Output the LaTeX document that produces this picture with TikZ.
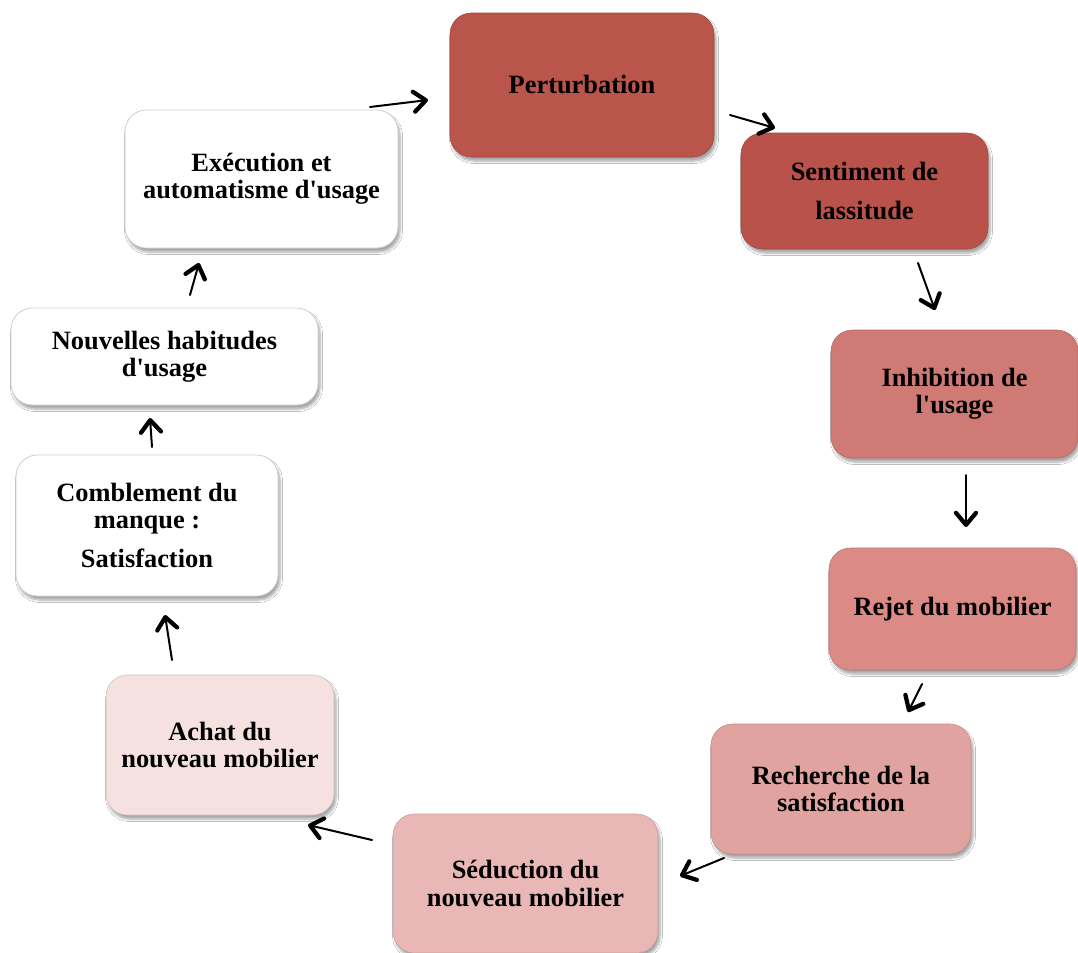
\documentclass[tikz,border=0pt]{standalone}
\usepackage{fontspec}
\setmainfont{Liberation Serif}
\usetikzlibrary{arrows.meta,shadows.blur}
\definecolor{cA}{HTML}{BA554C}
\definecolor{cB}{HTML}{B9524A}
\definecolor{cC}{HTML}{D07A75}
\definecolor{cD}{HTML}{DB8A85}
\definecolor{cE}{HTML}{E1A3A0}
\definecolor{cF}{HTML}{E9B8B6}
\definecolor{cG}{HTML}{F5E1E0}
\definecolor{edgegray}{HTML}{CFCFCF}
\newcommand{\apos}{\textquotesingle}
\tikzset{
  x=0.75pt, y=-0.75pt,
  box/.style={rounded corners=16pt, align=center, inner sep=2pt,
    font=\fontsize{19.8}{20.3}\selectfont\bfseries,
    blur shadow={shadow xshift=1.5pt, shadow yshift=-3pt, shadow blur steps=6, shadow opacity=35}},
  redbox/.style={box, fill=#1, draw=#1!85!black, line width=0.4pt},
  whitebox/.style={box, fill=white, draw=edgegray, line width=0.6pt},
  conn/.style={line width=1.5pt, line cap=round,
    -{Straight Barb[length=9pt,width=15pt,line width=3.2pt,round]}},
}
\begin{document}
\begin{tikzpicture}
\useasboundingbox (0,0) rectangle (1078,953);
\fill[white] (0,0) rectangle (1078,953);

\node[redbox=cA, minimum width=198pt, minimum height=108pt] (pert) at (582,85) {Perturbation};
\node[redbox=cB, minimum width=185.25pt, minimum height=87pt] (sent) at (864.5,191) {Sentiment de\\[9pt]lassitude};
\node[redbox=cC, minimum width=185.25pt, minimum height=96pt] (inhib) at (954.5,394) {Inhibition de\\l\apos usage};
\node[redbox=cD, minimum width=185.25pt, minimum height=91.5pt] (rejet) at (952.5,609) {Rejet du mobilier};
\node[redbox=cE, minimum width=195pt, minimum height=97.5pt] (rech) at (841,789) {Recherche de la\\satisfaction};
\node[redbox=cF, minimum width=198.75pt, minimum height=104.25pt] (sed) at (525.5,883.5) {Séduction du\\nouveau mobilier};
\node[redbox=cG, minimum width=171pt, minimum height=105pt] (achat) at (220,745) {Achat du\\nouveau mobilier};
\node[whitebox, minimum width=196.5pt, minimum height=105.75pt] (combl) at (147,525.5) {Comblement du\\manque :\\[9pt]Satisfaction};
\node[whitebox, minimum width=230.25pt, minimum height=72.75pt] (nouv) at (164.5,356.5) {Nouvelles habitudes\\d\apos usage};
\node[whitebox, minimum width=204.75pt, minimum height=103.5pt] (exec) at (261.5,179) {Exécution et\\automatisme d\apos usage};

\coordinate (a1s) at (370,107); \coordinate (a1e) at (428,100);
\coordinate (a2s) at (730,115); \coordinate (a2e) at (775,128);
\coordinate (a3s) at (918,263); \coordinate (a3e) at (935,310);
\coordinate (a4s) at (966,475); \coordinate (a4e) at (966,527);
\coordinate (a5s) at (922,684); \coordinate (a5e) at (908,712);
\coordinate (a6s) at (724,858); \coordinate (a6e) at (680,876);
\coordinate (a7s) at (372,840); \coordinate (a7e) at (308,825);
\coordinate (a8s) at (172,660); \coordinate (a8e) at (165,615);
\coordinate (a9s) at (152,447); \coordinate (a9e) at (150,418);
\coordinate (a10s) at (190,295); \coordinate (a10e) at (199,263);

\draw[conn] (a1s) -- (a1e);
\draw[conn] (a2s) -- (a2e);
\draw[conn] (a3s) -- (a3e);
\draw[conn] (a4s) -- (a4e);
\draw[conn] (a5s) -- (a5e);
\draw[conn] (a6s) -- (a6e);
\draw[conn] (a7s) -- (a7e);
\draw[conn] (a8s) -- (a8e);
\draw[conn] (a9s) -- (a9e);
\draw[conn] (a10s) -- (a10e);
\end{tikzpicture}
\end{document}
